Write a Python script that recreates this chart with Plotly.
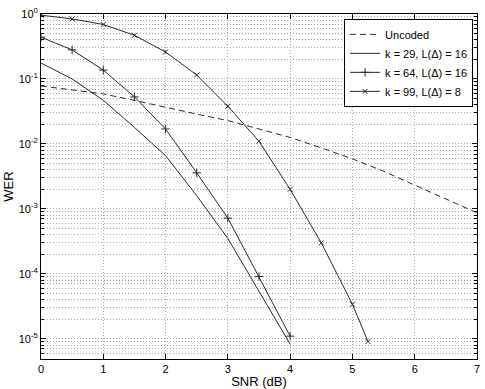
import plotly.graph_objects as go

# SNR grid (dB)
snr_uncoded = [0, 0.5, 1, 1.5, 2, 2.5, 3, 3.5, 4, 4.5, 5, 5.5, 6, 6.5, 7]
wer_uncoded = [0.078, 0.0676, 0.0589, 0.0468, 0.0363, 0.0288, 0.0229, 0.0170,
               0.0126, 0.0087, 0.0059, 0.0038, 0.00234, 0.00145, 0.00087]

snr_k29 = [0, 0.5, 1, 1.5, 2, 2.5, 3, 3.5, 4]
wer_k29 = [0.176, 0.1, 0.047, 0.018, 0.0066, 0.0016, 3.5e-4, 5.5e-5, 8.3e-6]

snr_k64 = [0, 0.5, 1, 1.5, 2, 2.5, 3, 3.5, 4]
wer_k64 = [0.44, 0.28, 0.137, 0.053, 0.017, 0.0036, 7.2e-4, 9.1e-5, 1.1e-5]

snr_k99 = [0, 0.5, 1, 1.5, 2, 2.5, 3, 3.5, 4, 4.5, 5, 5.25]
wer_k99 = [0.96, 0.84, 0.69, 0.47, 0.26, 0.115, 0.038, 0.011, 0.0020, 3.0e-4, 3.4e-5, 9.1e-6]

x_tickvals = [0, 1, 2, 3, 4, 5, 6, 7]
y_tickvals = [1, 1e-1, 1e-2, 1e-3, 1e-4, 1e-5]
y_ticktext = ["10<sup>0</sup>", "10<sup>-1</sup>", "10<sup>-2</sup>",
              "10<sup>-3</sup>", "10<sup>-4</sup>", "10<sup>-5</sup>"]

# minor log ticks 2..9 in each decade
y_minor = [m * 10.0 ** e for e in range(-6, 0) for m in range(2, 10)]

line_col = "#2a2a2a"
grid_col = "#ababab"

fig = go.Figure()

fig.add_trace(go.Scatter(
    x=snr_uncoded, y=wer_uncoded, mode="lines", name="Uncoded",
    line=dict(color=line_col, width=1, dash="6px,4px")))

fig.add_trace(go.Scatter(
    x=snr_k29, y=wer_k29, mode="lines", name="k = 29, L(Δ) = 16",
    line=dict(color=line_col, width=1)))

fig.add_trace(go.Scatter(
    x=snr_k64, y=wer_k64, mode="lines+markers", name="k = 64, L(Δ) = 16",
    line=dict(color=line_col, width=1),
    marker=dict(symbol="cross-thin", size=6, line=dict(color=line_col, width=1))))

fig.add_trace(go.Scatter(
    x=snr_k99, y=wer_k99, mode="lines+markers", name="k = 99, L(Δ) = 8",
    line=dict(color=line_col, width=1),
    marker=dict(symbol="x-thin", size=5, line=dict(color=line_col, width=1))))

fig.update_layout(
    width=485, height=389,
    margin=dict(l=41, r=8, t=14, b=30),
    paper_bgcolor="white", plot_bgcolor="white",
    font=dict(family="Liberation Sans, Arial, sans-serif", size=11, color="black"),
    showlegend=True,
    legend=dict(x=0.991, y=0.986, xanchor="right", yanchor="top",
                bgcolor="white", bordercolor="black", borderwidth=1,
                font=dict(size=11), tracegroupgap=0, itemwidth=30),
)

fig.update_xaxes(
    range=[0, 7], tickvals=x_tickvals, automargin=False,
    showline=True, linecolor="black", linewidth=1, mirror="ticks",
    ticks="inside", ticklen=5, tickcolor="black",
    showgrid=True, gridcolor=grid_col, griddash="1px,2px", gridwidth=1,
    zeroline=False,
    title=dict(text="SNR (dB)", standoff=2),
)

fig.update_yaxes(
    type="log", range=[-5.31, 0], automargin=False,
    tickvals=y_tickvals, ticktext=y_ticktext,
    showline=True, linecolor="black", linewidth=1, mirror="ticks",
    ticks="inside", ticklen=5, tickcolor="black",
    showgrid=True, gridcolor=grid_col, griddash="1px,2px", gridwidth=1,
    minor=dict(tickmode="array", tickvals=y_minor,
               ticks="inside", ticklen=3, tickcolor="black",
               showgrid=True, gridcolor=grid_col, griddash="1px,2px", gridwidth=1),
    zeroline=False,
    title=dict(text="WER", standoff=2),
)

# drop the browser's default body margin so the figure sits at the page corner
fig.write_html("out.html", config={"displayModeBar": False},
               post_script="document.body.style.margin='0';")
